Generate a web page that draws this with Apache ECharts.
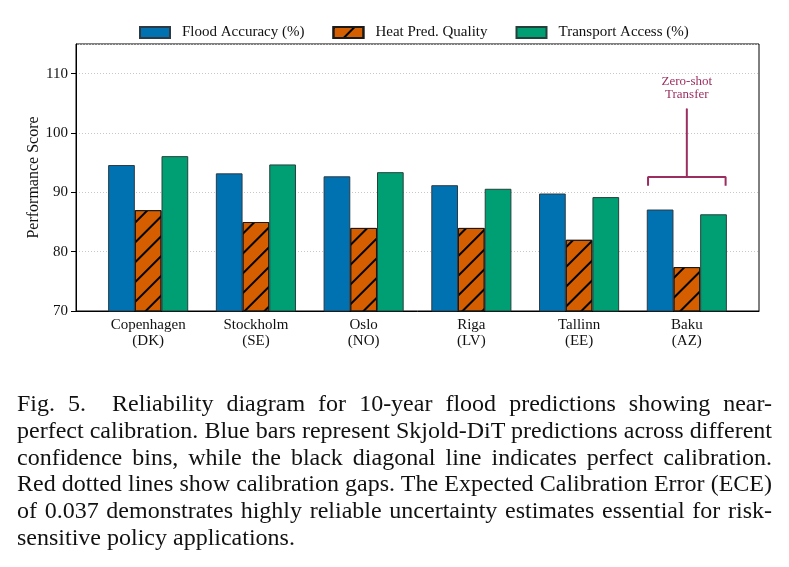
<!DOCTYPE html>
<html>
<head>
<meta charset="utf-8">
<script src="https://cdn.jsdelivr.net/npm/echarts@6/dist/echarts.min.js"></script>
<style>
  body { margin: 0; background: #fff; }
  #chart { width: 789px; height: 567px; position: absolute; left: 0; top: 0; }
  #caption {
    position: absolute; left: 17px; top: 390px; width: 755px;
    font-family: "Liberation Serif", "DejaVu Serif", serif;
    font-size: 24px; line-height: 26.8px; color: #111;
  }
  #caption div { text-align: justify; text-align-last: justify; white-space: nowrap; }
  #caption div.last { text-align-last: left; }
</style>
</head>
<body>
<div id="chart"></div>
<div id="caption">
  <div>Fig. 5.&nbsp; Reliability diagram for 10-year flood predictions showing near-</div>
  <div>perfect calibration. Blue bars represent Skjold-DiT predictions across different</div>
  <div>confidence bins, while the black diagonal line indicates perfect calibration.</div>
  <div>Red dotted lines show calibration gaps. The Expected Calibration Error (ECE)</div>
  <div>of 0.037 demonstrates highly reliable uncertainty estimates essential for risk-</div>
  <div class="last">sensitive policy applications.</div>
</div>
<script>
// data
var cities = ["Copenhagen", "Stockholm", "Oslo", "Riga", "Tallinn", "Baku"];
var codes = ["DK", "SE", "NO", "LV", "EE", "AZ"];
var flood = [94.6, 93.2, 92.7, 91.2, 89.8, 87.1];
var heat = [87.0, 85.0, 84.0, 84.0, 82.0, 77.4];
var transport = [96.1, 94.7, 93.4, 90.6, 89.2, 86.3];
var yTicks = [70, 80, 90, 100, 110];

// annotation over Baku (data coords)
var bracket = [[4.64, 91.1], [4.64, 92.6], [5.36, 92.6], [5.36, 91.1]];
var stem = [[5, 92.6], [5, 104.1]];

var serif = '"Liberation Serif", "DejaVu Serif", serif';
var idx = cities.map(function (c, i) { return i; });

function pairs(arr) {
  return arr.map(function (v, i) { return [i, v]; });
}

var myChart = echarts.init(document.getElementById("chart"));

var option = {
  animation: false,
  textStyle: { fontFamily: serif },
  grid: {
    left: 76, right: 30, top: 44, bottom: 256,
    show: true, borderColor: "#000", borderWidth: 1
  },
  legend: {
    data: ["Flood Accuracy (%)", "Heat Pred. Quality", "Transport Access (%)"],
    icon: "rect",
    left: 134, top: 20,
    itemWidth: 30, itemHeight: 11, itemGap: 28,
    textStyle: { fontFamily: serif, fontSize: 15, color: "#111", padding: [0, 0, 0, 7] }
  },
  xAxis: {
    type: "value",
    min: -0.67, max: 5.67,
    axisLine: { lineStyle: { color: "#000" } },
    axisTick: { customValues: idx, inside: true, length: 4, lineStyle: { color: "#000" } },
    axisLabel: {
      customValues: idx,
      fontFamily: serif, fontSize: 15, color: "#111", lineHeight: 16, margin: 6,
      formatter: function (v) {
        return cities[v] + "\n(" + codes[v] + ")";
      }
    },
    splitLine: { show: false }
  },
  yAxis: {
    type: "value",
    min: 70, max: 115, interval: 10,
    name: "Performance Score",
    nameLocation: "middle", nameGap: 34,
    nameMoveOverlap: false,
    nameTextStyle: { fontFamily: serif, fontSize: 16, color: "#111" },
    axisLine: { show: true, onZero: false, lineStyle: { color: "#000" } },
    axisTick: { show: true, length: 5, lineStyle: { color: "#000" } },
    axisLabel: {
      fontFamily: serif, fontSize: 15, color: "#111", margin: 8,
      showMaxLabel: false,
      formatter: function (v) { return yTicks.indexOf(v) >= 0 ? v : ""; }
    },
    splitLine: { show: true, lineStyle: { color: "#c8c8c8", type: [1, 2] } }
  },
  series: [
    {
      name: "Flood Accuracy (%)",
      type: "bar",
      data: pairs(flood),
      barWidth: 26.7,
      barGap: "0%",
      itemStyle: { color: "#0072B2", borderColor: "#2b3a44", borderWidth: 1 }
    },
    {
      name: "Heat Pred. Quality",
      type: "bar",
      data: pairs(heat),
      barWidth: 26.7,
      barGap: "0%",
      itemStyle: {
        color: "#D55E00", borderColor: "#1a1a1a", borderWidth: 1,
        decal: {
          symbol: "rect",
          color: "#000",
          backgroundColor: null,
          dashArrayX: [1, 0],
          dashArrayY: [1.4, 11.3],
          rotation: -Math.PI / 4
        }
      }
    },
    {
      name: "Transport Access (%)",
      type: "bar",
      data: pairs(transport),
      barWidth: 26.7,
      barGap: "0%",
      itemStyle: { color: "#009E73", borderColor: "#24403a", borderWidth: 1 }
    },
    {
      name: "bracket",
      type: "line",
      data: bracket,
      showSymbol: false,
      silent: true,
      lineStyle: { color: "#9B2D5F", width: 2 },
      z: 5
    },
    {
      name: "stem",
      type: "line",
      data: [
        stem[0],
        {
          value: stem[1],
          label: {
            show: true, position: "top", distance: 7,
            formatter: "Zero-shot\nTransfer",
            fontFamily: serif, fontSize: 13, lineHeight: 13, color: "#9B2D5F"
          }
        }
      ],
      symbol: "circle",
      symbolSize: 1,
      silent: true,
      itemStyle: { color: "#9B2D5F" },
      lineStyle: { color: "#9B2D5F", width: 2 },
      z: 5
    }
  ]
};

myChart.setOption(option);
</script>
</body>
</html>
